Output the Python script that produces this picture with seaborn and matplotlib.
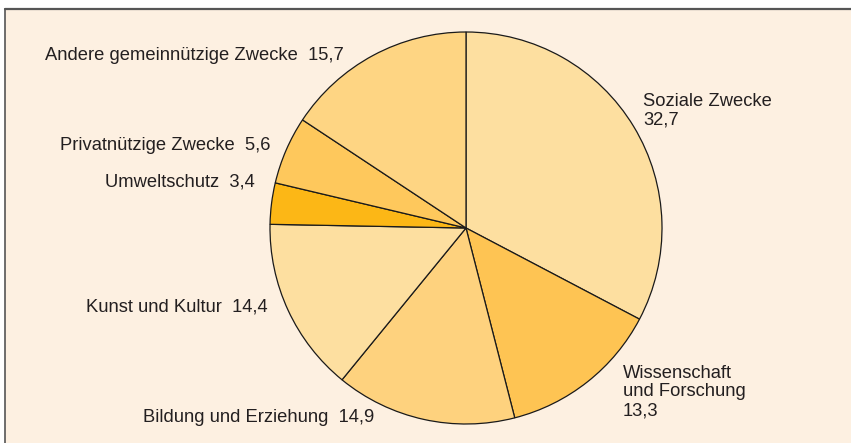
import matplotlib
matplotlib.use("Agg")
import matplotlib.pyplot as plt
import seaborn as sns
from matplotlib.patches import Rectangle
from matplotlib.lines import Line2D

# data
categories = ["Soziale Zwecke", "Wissenschaft\nund Forschung", "Bildung und Erziehung",
              "Kunst und Kultur", "Umweltschutz", "Privatnützige Zwecke",
              "Andere gemeinnützige Zwecke"]
shares = [32.7, 13.3, 14.9, 14.4, 3.4, 5.6, 15.7]
colors = ["#FDDFA0", "#FEC453", "#FED27E", "#FDDFA0", "#FCB716", "#FEC85C", "#FED583"]

sns.set_style("white")
plt.rcParams['font.family'] = ['Liberation Sans', 'DejaVu Sans']

W, H = 851, 443
fig = plt.figure(figsize=(W / 100, H / 100), dpi=100, facecolor="white")

# cream panel with grey frame (top + left)
fig.patches.append(Rectangle((5 / W, 0), 1, (H - 9) / H, transform=fig.transFigure,
                             facecolor="#FDF0E1", edgecolor="none", zorder=-10))
fig.lines.append(Line2D([5 / W, 1], [(H - 9) / H] * 2, transform=fig.transFigure,
                        color="#555555", lw=1.6, zorder=-5))
fig.lines.append(Line2D([5 / W] * 2, [0, (H - 9) / H], transform=fig.transFigure,
                        color="#555555", lw=1.2, zorder=-5))

cx, cy, r = 466, 228, 196
ax = fig.add_axes([(cx - r) / W, (H - cy - r) / H, 2 * r / W, 2 * r / H])
ax.set_facecolor("none")
ax.pie(shares, colors=colors, startangle=90, counterclock=False, radius=1,
       wedgeprops=dict(edgecolor="#1a1a1a", linewidth=0.9))
ax.set_xlim(-1, 1)
ax.set_ylim(-1, 1)
ax.set_aspect("equal")
ax.axis("off")


def px(x, y):
    return (x - cx) / r, (cy - y) / r


def fmt(v):
    return f"{v:.1f}".replace(".", ",")


txt = dict(fontsize=13.2, color="#231f20", va="center")
# label anchors (pixel coords) and alignment
label_pos = [(643, 111, "left"), (623, 392, "left"), (374, 418, "right"),
             (268, 307, "right"), (255, 182, "right"), (270, 146, "right"),
             (344, 55, "right")]
for cat, val, (x, y, ha) in zip(categories, shares, label_pos):
    if ha == "left":
        s = f"{cat}\n{fmt(val)}"
    else:
        s = f"{cat}  {fmt(val)}"
    ax.text(*px(x, y), s, ha=ha, linespacing=1.15, clip_on=False, **txt)

fig.savefig("out.png", dpi=100, facecolor="white")
